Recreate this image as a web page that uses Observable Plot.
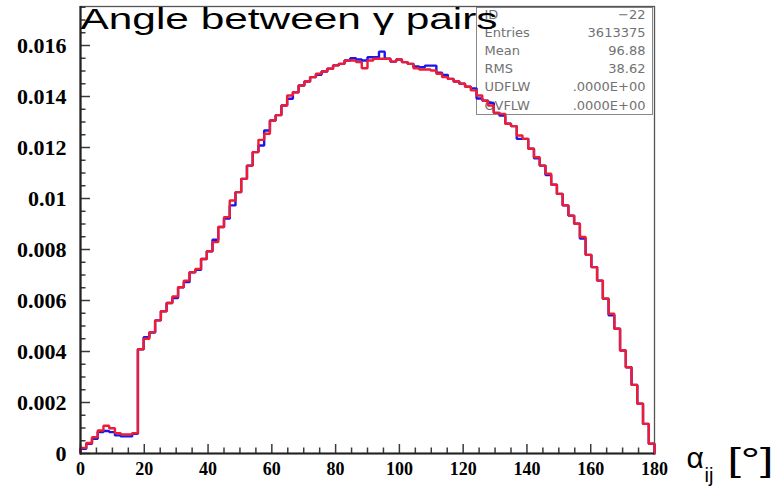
<!DOCTYPE html>
<html><head><meta charset="utf-8">
<script src="https://cdn.jsdelivr.net/npm/d3@7"></script>
<script src="https://cdn.jsdelivr.net/npm/@observablehq/plot@0.6"></script>
<style>
html,body{margin:0;padding:0;background:#fff;}
#wrap{position:relative;width:776px;height:490px;overflow:hidden;}
#stats{position:absolute;left:476px;top:7px;width:177px;height:108px;box-sizing:border-box;border:1.5px solid #8a8a8a;font-family:"DejaVu Sans";font-size:13px;color:#727272;z-index:0;}
#chart{position:absolute;left:0;top:0;z-index:1;}
.row{position:absolute;left:0;right:0;height:18px;line-height:18px;white-space:nowrap;}
.row .k{position:absolute;left:7.5px;}
.row .v{position:absolute;right:6.5px;}
</style></head><body>
<div id="wrap"><div id="stats"></div><div id="chart"></div></div>
<script>
// ---- data ----
const titleText = "Angle between \u03b3 pairs";
const xDomain = [0, 180];
const yDomain = [0, 0.01753];
const nBins = 100;
const xMajorTicks = [0, 20, 40, 60, 80, 100, 120, 140, 160, 180];
const xMinorTicks = [5, 10, 15, 25, 30, 35, 45, 50, 55, 65, 70, 75, 85, 90, 95, 105, 110, 115, 125, 130, 135, 145, 150, 155, 165, 170, 175];
const yMajorTicks = [0, 0.002, 0.004, 0.006, 0.008, 0.01, 0.012, 0.014, 0.016];
const yMinorTicks = [0.0005, 0.001, 0.0015, 0.0025, 0.003, 0.0035, 0.0045, 0.005, 0.0055, 0.0065, 0.007, 0.0075, 0.0085, 0.009, 0.0095, 0.0105, 0.011, 0.0115, 0.0125, 0.013, 0.0135, 0.0145, 0.015, 0.0155, 0.0165, 0.017, 0.0175];
const yTickLabels = ["0", "0.002", "0.004", "0.006", "0.008", "0.01", "0.012", "0.014", "0.016"];
const statsLabels = ["ID", "Entries", "Mean", "RMS", "UDFLW", "OVFLW"];
const statsValues = ["\u221222", "3613375", "96.88", "38.62", ".0000E+00", ".0000E+00"];

const redValues = [
  0.00022, 0.00041, 0.00064, 0.00090, 0.00109, 0.00099, 0.00080, 0.00075, 0.00075, 0.00080,
  0.00409, 0.00450, 0.00476, 0.00522, 0.00558, 0.00590, 0.00616, 0.00652, 0.00678, 0.00711,
  0.00724, 0.00763, 0.00793, 0.00829, 0.00888, 0.00927, 0.00992, 0.01025, 0.01077, 0.01129,
  0.01182, 0.01230, 0.01254, 0.01306, 0.01327, 0.01365, 0.01404, 0.01417, 0.01443, 0.01459,
  0.01476, 0.01489, 0.01498, 0.01509, 0.01522, 0.01528, 0.01541, 0.01541, 0.01535, 0.01511,
  0.01541, 0.01548, 0.01548, 0.01548, 0.01537, 0.01545, 0.01535, 0.01528, 0.01511, 0.01506,
  0.01506, 0.01502, 0.01489, 0.01476, 0.01469, 0.01459, 0.01450, 0.01438, 0.01424, 0.01404,
  0.01384, 0.01365, 0.01336, 0.01332, 0.01293, 0.01284, 0.01247, 0.01234, 0.01195, 0.01162,
  0.01129, 0.01097, 0.01054, 0.01018, 0.00973, 0.00933, 0.00901, 0.00849, 0.00779, 0.00731,
  0.00678, 0.00607, 0.00548, 0.00489, 0.00404, 0.00338, 0.00269, 0.00195, 0.00116, 0.00038
];
const blueValues = [
  0.00018, 0.00038, 0.00058, 0.00084, 0.00088, 0.00084, 0.00071, 0.00067, 0.00067, 0.00077,
  0.00409, 0.00456, 0.00474, 0.00522, 0.00558, 0.00590, 0.00610, 0.00652, 0.00672, 0.00711,
  0.00720, 0.00763, 0.00793, 0.00838, 0.00888, 0.00921, 0.00973, 0.01025, 0.01077, 0.01129,
  0.01182, 0.01208, 0.01267, 0.01306, 0.01327, 0.01365, 0.01391, 0.01417, 0.01443, 0.01459,
  0.01476, 0.01485, 0.01498, 0.01509, 0.01522, 0.01528, 0.01541, 0.01550, 0.01545, 0.01541,
  0.01554, 0.01554, 0.01576, 0.01548, 0.01537, 0.01545, 0.01535, 0.01528, 0.01518, 0.01515,
  0.01521, 0.01521, 0.01493, 0.01485, 0.01469, 0.01459, 0.01450, 0.01438, 0.01432, 0.01392,
  0.01384, 0.01375, 0.01336, 0.01325, 0.01293, 0.01284, 0.01234, 0.01234, 0.01195, 0.01158,
  0.01129, 0.01092, 0.01054, 0.01018, 0.00973, 0.00933, 0.00901, 0.00843, 0.00779, 0.00731,
  0.00678, 0.00607, 0.00542, 0.00489, 0.00404, 0.00338, 0.00269, 0.00195, 0.00116, 0.00038
];

// ---- build histogram outlines ----
const binWidth = (xDomain[1] - xDomain[0]) / nBins;
function outline(values) {
  const pts = [{x: xDomain[0], y: 0}];
  values.forEach((v, i) => pts.push({x: xDomain[0] + i * binWidth, y: v}));
  pts.push({x: xDomain[1], y: values[values.length - 1]});
  pts.push({x: xDomain[1], y: 0});
  return pts;
}

const W = 776, H = 490, ML = 80, MR = 122, MT = 6, MB = 37;
const FW = W - ML - MR, FH = H - MT - MB;
// tick lengths converted from pixels into data units of each scale
const xPerPx = (xDomain[1] - xDomain[0]) / FW;
const yPerPx = (yDomain[1] - yDomain[0]) / FH;
const serif = "'Liberation Serif', 'Times New Roman', serif";
const sans = "'Liberation Sans', Arial, sans-serif";
const tickColor = "#3a3a3a";

const plot = Plot.plot({
  width: W,
  height: H,
  marginLeft: ML,
  marginRight: MR,
  marginTop: MT,
  marginBottom: MB,
  style: {background: "transparent", overflow: "visible"},
  x: {domain: xDomain, axis: null},
  y: {domain: yDomain, axis: null},
  marks: [
    Plot.frame({stroke: "#555", strokeWidth: 1.3}),
    // inward ticks
    Plot.ruleY(yMajorTicks, {y: d => d, x1: xDomain[0], x2: xDomain[0] + 10 * xPerPx, stroke: tickColor, strokeWidth: 1.5}),
    Plot.ruleY(yMinorTicks, {y: d => d, x1: xDomain[0], x2: xDomain[0] + 5.5 * xPerPx, stroke: tickColor, strokeWidth: 1.5}),
    Plot.ruleX(xMajorTicks, {x: d => d, y1: 0, y2: 9 * yPerPx, stroke: tickColor, strokeWidth: 1.5}),
    Plot.ruleX(xMinorTicks, {x: d => d, y1: 0, y2: 5.5 * yPerPx, stroke: tickColor, strokeWidth: 1.5}),
    Plot.line(outline(blueValues), {x: "x", y: "y", curve: "step-after", stroke: "#1717ee", strokeWidth: 2.4, strokeLinejoin: "miter"}),
    Plot.line(outline(redValues), {x: "x", y: "y", curve: "step-after", stroke: "#ee1d33", strokeWidth: 2.4, strokeLinejoin: "miter"}),
    Plot.ruleX([xDomain[0]], {stroke: "#222", strokeWidth: 2.2}),
    Plot.ruleY([0], {stroke: "#222", strokeWidth: 2.2}),
    // tick labels
    Plot.axisY({ticks: yMajorTicks, tickSize: 0, tickPadding: 14, tickFormat: (d, i) => yTickLabels[i], label: null,
      fontSize: 22, fontWeight: "bold", fontFamily: serif, fill: "#000"}),
    Plot.axisX({ticks: xMajorTicks, tickSize: 0, tickPadding: 9, tickFormat: d => String(d), label: null,
      fontSize: 18, fontWeight: "bold", fontFamily: serif, fill: "#000"}),
    // title
    Plot.text([titleText], {text: d => d, frameAnchor: "top-left", textAnchor: "start", lineAnchor: "top", dy: 1,
      fontSize: 30, fontFamily: sans, fill: "#000"}),
    // x-axis label  α_ij [°]
    Plot.text(["\u03b1"], {text: d => d, frameAnchor: "bottom-right", textAnchor: "start", lineAnchor: "bottom", dx: 32, dy: 14,
      fontSize: 30, fontFamily: sans, fill: "#000"}),
    Plot.text(["ij"], {text: d => d, frameAnchor: "bottom-right", textAnchor: "start", lineAnchor: "bottom", dx: 50, dy: 28,
      fontSize: 20, fontFamily: sans, fill: "#000"}),
    Plot.text(["[\u00b0]"], {text: d => d, frameAnchor: "bottom-right", textAnchor: "start", lineAnchor: "bottom", dx: 73, dy: 17,
      fontSize: 34, fontFamily: sans, fill: "#000"})
  ]
});

document.getElementById("chart").appendChild(plot);

// stretch title horizontally like the reference
plot.querySelectorAll("text").forEach(t => {
  if (t.textContent === titleText) {
    t.setAttribute("textLength", 417);
    t.setAttribute("lengthAdjust", "spacingAndGlyphs");
  }
  if (t.textContent === "[\u00b0]") {
    t.setAttribute("textLength", 46);
    t.setAttribute("lengthAdjust", "spacingAndGlyphs");
  }
});

// stats box
const stats = document.getElementById("stats");
statsLabels.forEach((k, i) => {
  const row = document.createElement("div");
  row.className = "row";
  row.style.top = (-2 + i * 18.1) + "px";
  const a = document.createElement("span"); a.className = "k"; a.textContent = k;
  const b = document.createElement("span"); b.className = "v"; b.textContent = statsValues[i];
  row.appendChild(a); row.appendChild(b);
  stats.appendChild(row);
});
</script>
</body></html>
